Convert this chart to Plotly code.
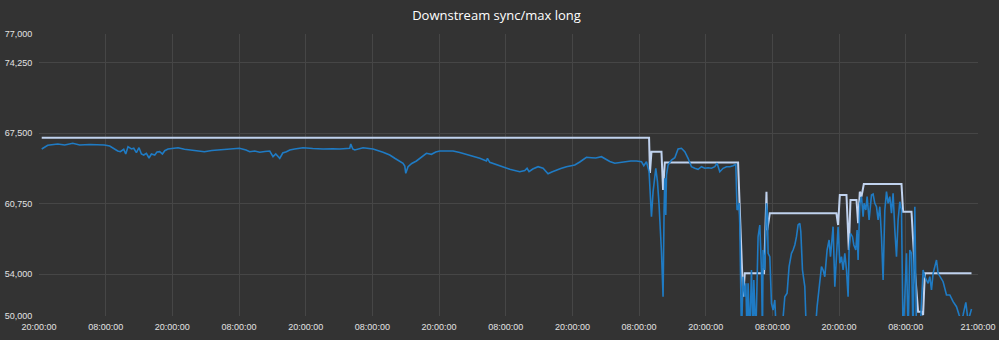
import pandas as pd
import plotly.graph_objects as go

START = pd.Timestamp("2021-03-01 20:00:00")

# hours since START, and downstream values
sync_hours = [0.49, 1.57, 3.37, 4.63, 6.07, 7.33, 9.13, 11.77, 12.73, 14.17, 14.65, 15.25, 15.61, 16.02, 16.63,
              17.05, 17.53, 18.0, 18.43, 18.85, 19.33, 19.8, 20.23, 20.83, 21.24, 21.73, 22.21, 22.63, 23.22,
              24.07, 25.02, 26.17, 27.13, 28.33, 29.77, 31.09, 32.53, 33.97, 35.05, 36.07, 37.26, 37.93, 38.83,
              39.73, 40.63, 41.53, 42.12, 42.61, 43.33, 43.87, 44.53, 45.13, 46.03, 47.52, 49.27, 51.12, 52.87,
              54.13, 55.93, 56.11, 56.47, 56.83, 58.32, 60.12, 61.92, 63.13, 64.03, 64.93, 65.52, 65.83, 66.01,
              66.42, 67.09, 67.93, 68.71, 69.73, 70.63, 71.41, 72.13, 73.93, 74.52, 75.73, 76.93, 78.07, 79.33,
              80.53, 80.71, 81.13, 82.93, 84.73, 86.53, 87.43, 87.84, 88.2, 88.87, 89.82, 90.72, 91.62, 92.29,
              93.13, 93.91, 94.93, 96.43, 97.33, 98.53, 99.43, 100.21, 101.23, 102.13, 102.73, 103.63, 104.53,
              105.73, 106.51, 107.53, 108.43, 108.85, 109.33, 109.8, 110.23, 110.52, 111.01, 111.31, 111.6,
              112.03, 112.32, 112.5, 112.63, 112.81, 112.93, 113.22, 113.83, 114.43, 115.02, 115.63, 116.23,
              116.82, 117.43, 118.03, 118.62, 119.23, 119.83, 120.42, 121.03, 121.63, 122.04, 122.53, 123.12,
              123.73, 124.33, 124.92, 125.41, 125.64, 125.82, 126.0, 126.13, 126.43, 126.72, 127.03, 127.21,
              127.44, 127.62, 127.93, 128.23, 128.52, 128.65, 129.01, 129.42, 129.73, 130.03, 130.21, 130.32,
              130.63, 130.93, 131.11, 131.22, 131.53, 131.83, 132.12, 132.43, 132.73, 133.63, 134.23, 134.64,
              135.0, 135.43, 135.72, 136.03, 136.33, 136.62, 136.93, 137.11, 137.41, 137.65, 137.83, 138.13,
              139.63, 140.04, 140.4, 140.83, 141.12, 141.43, 141.84, 142.2, 142.45, 142.63, 142.92, 143.23,
              143.41, 143.64, 143.82, 144.13, 144.43, 144.72, 145.03, 145.33, 145.62, 145.8, 146.05, 146.41,
              146.65, 147.01, 147.24, 147.42, 147.73, 148.03, 148.32, 148.5, 148.81, 149.04, 149.4, 149.83,
              150.12, 150.43, 150.73, 151.02, 151.33, 151.63, 151.92, 152.23, 152.53, 152.82, 153.13, 153.43,
              153.72, 154.03, 154.33, 154.62, 154.93, 155.23, 155.52, 155.83, 156.13, 156.42, 156.73, 157.03,
              157.32, 157.63, 157.93, 158.53, 159.12, 159.43, 159.73, 160.02, 160.33, 160.63, 160.92, 161.23,
              161.53, 161.82, 162.13, 162.72, 163.33, 163.93, 164.52, 165.13, 165.6, 166.03, 166.32, 166.81,
              167.22, 167.83]
sync_values = [65990, 66344, 66468, 66373, 66536, 66373, 66420, 66373, 66277, 65798, 65731, 65961, 65511, 66210,
               65990, 66057, 65636, 66114, 65511, 65415, 65578, 65128, 65511, 65415, 65702, 65731, 65511, 65827,
               65990, 66057, 66114, 65961, 65894, 65827, 65731, 65846, 65894, 65990, 66038, 66057, 65894, 65731,
               65798, 65674, 65750, 65798, 65253, 65511, 65100, 65607, 65731, 65894, 65990, 66114, 66038, 65990,
               66019, 65990, 66057, 66468, 65990, 65894, 66114, 65990, 65674, 65415, 65100, 64841, 64621, 64362,
               63663, 64296, 64602, 64841, 65128, 65578, 65483, 65702, 65798, 65750, 65798, 65655, 65483, 65320,
               65100, 64841, 65100, 64717, 64411, 64047, 63817, 63932, 64143, 63817, 64076, 64296, 64143, 63626,
               63788, 63979, 64123, 64296, 64458, 64745, 65195, 65157, 65128, 65253, 64937, 64793, 64621, 64698,
               64774, 64841, 64841, 64774, 64391, 64774, 63816, 59508, 61901, 64142, 62859, 60628, 56157, 51849,
               59987, 63185, 59671, 63500, 64458, 64936, 65157, 65990, 66057, 65731, 65100, 64296, 64142, 64047,
               64296, 64142, 64200, 64142, 64296, 64621, 63816, 64142, 64296, 64296, 64391, 64525, 60150, 60312,
               60820, 58714, 48000, 53764, 51849, 53132, 48000, 53132, 48000, 54406, 48000, 53448, 48000, 57593,
               58713, 54405, 48000, 56320, 54405, 60791, 59834, 56004, 55679, 51217, 50575, 51533, 48000, 48000,
               51849, 52174, 54721, 56004, 56320, 56799, 57593, 58713, 58876, 58072, 54405, 53448, 52807, 48000,
               48000, 50892, 52807, 54721, 54405, 53764, 56320, 57278, 55679, 56799, 58551, 52807, 54405, 56320,
               58551, 55047, 55679, 54405, 56004, 54405, 51849, 56320, 57919, 57593, 56799, 56320, 58235, 55363,
               60791, 61423, 59508, 60791, 60150, 61423, 59192, 61586, 61681, 60791, 60466, 59192, 60466, 57593,
               53448, 60150, 61902, 60791, 61423, 59834, 61748, 58235, 55679, 59192, 60944, 60150, 48000, 51849,
               56004, 48000, 56320, 56004, 48000, 60466, 48000, 48000, 54405, 53764, 53448, 53132, 53764, 52490,
               54089, 54721, 55363, 54089, 53764, 53285, 52012, 52012, 51370, 50892, 50097, 49500, 50097, 51312,
               49500, 50669]

max_hours = [0.49, 109.8, 109.96, 110.23, 112.03, 112.32, 112.63, 125.82, 126.13, 126.72, 127.03, 130.5, 130.93,
             131.07, 131.53, 143.52, 143.82, 144.13, 145.33, 145.75, 146.05, 147.13, 147.42, 147.73, 148.03,
             148.45, 155.23, 155.52, 157.03, 157.63, 158.22, 158.83, 159.12, 159.43, 167.83]
max_values = [67072, 67072, 63692, 65732, 65732, 62064, 64700, 64700, 60150, 51849, 54089, 54089, 61902, 58235,
              59834, 59834, 58713, 61586, 61586, 56320, 61107, 61107, 58876, 61902, 61423, 62639, 62639, 59987,
              59987, 54405, 50413, 50413, 50097, 54089, 54089]

y_ticks = [50000, 54000, 60750, 67500, 74250, 77000]
x_tick_hours = [0, 12, 24, 36, 48, 60, 72, 84, 96, 108, 120, 132, 144, 156, 169]

to_time = lambda hs: [START + pd.Timedelta(hours=h) for h in hs]
x_tick_vals = to_time(x_tick_hours)
x_tick_text = [t.strftime("%H:%M:%S") for t in x_tick_vals]

BG = "#333333"
GRID = "#464646"
TXT = "#e2e2e2"

fig = go.Figure()
fig.add_trace(go.Scatter(x=to_time(max_hours), y=max_values, mode="lines",
                         line=dict(color="#c0d2ee", width=2), showlegend=False, hoverinfo="skip"))
fig.add_trace(go.Scatter(x=to_time(sync_hours), y=sync_values, mode="lines",
                         line=dict(color="#1f7bc4", width=1.6), showlegend=False))

fig.update_layout(
    width=999, height=340,
    paper_bgcolor=BG, plot_bgcolor=BG,
    margin=dict(l=39, r=21, t=34, b=24, autoexpand=False),
    title=dict(text="Downstream sync/max long", x=0.497, xanchor="center", y=0.955, yanchor="middle",
               font=dict(family="Open Sans", size=13, color="#ffffff")),
    font=dict(family="Liberation Sans, Arial", size=9, color=TXT),
    xaxis=dict(range=[START, START + pd.Timedelta(hours=169)], tickmode="array", automargin=False,
               tickvals=x_tick_vals, ticktext=x_tick_text, showgrid=True, gridcolor=GRID, gridwidth=1,
               zeroline=False, showline=False, ticks="outside", ticklen=2, tickcolor=BG,
               tickfont=dict(size=9, color=TXT)),
    yaxis=dict(range=[50000, 77000], tickmode="array", tickvals=y_ticks, automargin=False,
               ticktext=[f"{v:,}" for v in y_ticks], showgrid=True, gridcolor=GRID, gridwidth=1,
               zeroline=False, showline=False, ticks="outside", ticklen=4, tickcolor=BG,
               tickfont=dict(size=9, color=TXT)),
)

fig.write_html("out.html")
